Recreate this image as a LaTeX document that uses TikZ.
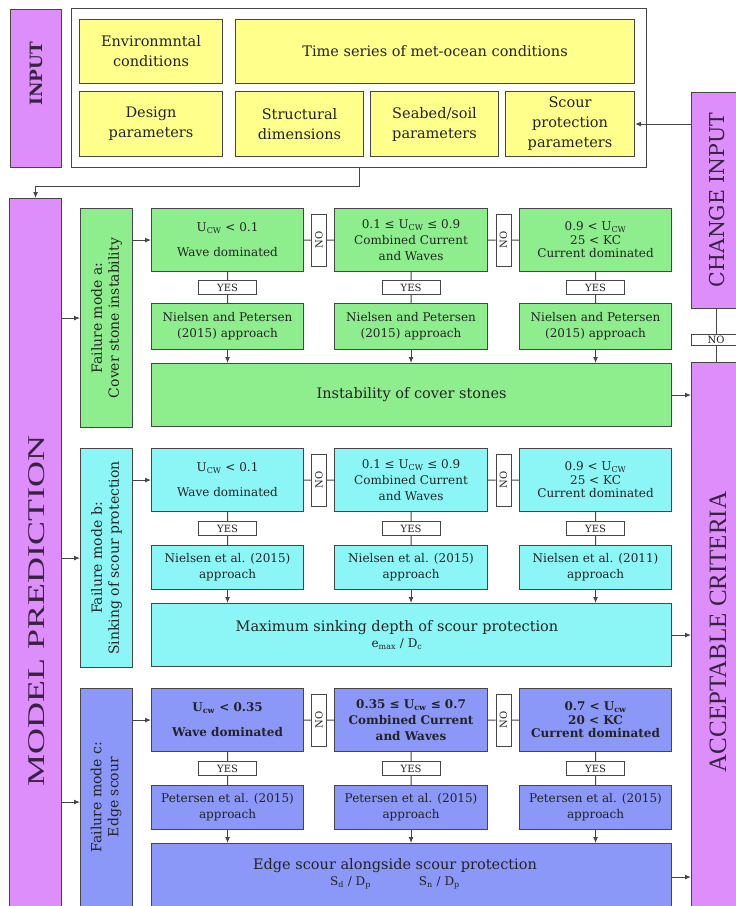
\documentclass[tikz,border=0pt]{standalone}
\usepackage{fontspec}
\setmainfont{DejaVu Serif}
\newfontfamily\tmsf{Liberation Serif}
\usetikzlibrary{arrows.meta,calc}

\definecolor{ylw}{RGB}{255,255,140}
\definecolor{grn}{RGB}{142,238,142}
\definecolor{cyn}{RGB}{140,246,246}
\definecolor{blu}{RGB}{140,152,248}
\definecolor{prp}{RGB}{222,142,250}
\definecolor{lnc}{RGB}{70,70,70}
\definecolor{txc}{RGB}{35,35,35}
\definecolor{ptx}{RGB}{55,35,65}

\newcommand\mkbox[7]{%
  \pgfmathsetmacro\bw{#5-#3}\pgfmathsetmacro\bh{#6-#4}%
  \node[#1, minimum width=\bw pt, minimum height=\bh pt, anchor=north west] (#2) at (#3,#4) {#7};}

\newcommand\wire[1]{%
  \node[lab, rotate=90, minimum width=52pt, minimum height=15pt] (#1no1) at ($(#11.east)!0.5!(#12.west)$) {NO};
  \node[lab, rotate=90, minimum width=52pt, minimum height=15pt] (#1no2) at ($(#12.east)!0.5!(#13.west)$) {NO};
  \draw[conn] (#11) -- (#1no1);
  \draw[conn] (#1no1) -- (#12);
  \draw[conn] (#12) -- (#1no2);
  \draw[conn] (#1no2) -- (#13);
  \foreach \k in {1,2,3}{
    \node[lab, minimum width=58pt, minimum height=14pt] (#1yes\k) at ($(#1\k.south)!0.5!(#1p\k.north)$) {YES};
    \draw[conn] (#1\k) -- (#1yes\k);
    \draw[conn] (#1yes\k) -- (#1p\k);
    \draw[arr] (#1p\k.south) -- (#1p\k.south |- #1b.north);
  }
  \draw[arr] (f#1.east |- #11) -- (#11.west);
  \draw[arr] (mp.east |- f#1) -- (f#1.west);
  \draw[arr] (#1b.east) -- (#1b.east -| acc.west);
}

\begin{document}
\begin{tikzpicture}[x=1pt,y=-1pt,
  bx/.style={draw=lnc, line width=1.1pt, inner sep=1pt, align=center, text=txc},
  boxY/.style={bx, fill=ylw, font=\fontsize{14.5}{20}\selectfont},
  boxG/.style={bx, fill=grn, font=\fontsize{12}{16}\selectfont},
  boxC/.style={bx, fill=cyn, font=\fontsize{12}{16}\selectfont},
  boxB/.style={bx, fill=blu, font=\fontsize{12}{16}\selectfont},
  boxBb/.style={boxB, font=\bfseries\fontsize{12}{16}\selectfont},
  big/.style={font=\fontsize{14.5}{18}\selectfont},
  ftxt/.style={rotate=90, align=center, text=txc, font=\fontsize{14}{17}\selectfont},
  pbox/.style={draw=lnc, fill=prp, line width=1.1pt},
  ptxt/.style={rotate=90, text=ptx, inner sep=0pt},
  lab/.style={draw=lnc, fill=white, line width=0.9pt, inner sep=0pt, text=txc, font=\fontsize{10}{10}\selectfont},
  conn/.style={draw=lnc, line width=1pt},
  arr/.style={conn, -{Latex[length=6pt,width=5pt]}},
]
\useasboundingbox (0,0) rectangle (736,906);
\fill[white] (0,0) rectangle (736,906);
\clip (0,0) rectangle (736,906);

% ---------- INPUT ----------
\mkbox{pbox}{inp}{10}{9}{61}{167}{}
\node[ptxt, font=\bfseries\fontsize{17}{17}\selectfont] (inpt) at (36,74) {INPUT};
\mkbox{draw=lnc, fill=white, line width=1.3pt}{inbox}{71}{8}{646}{167}{}
\mkbox{boxY}{e1}{79}{19}{222}{83}{Environmntal\\conditions}
\mkbox{boxY}{e2}{235}{19}{634}{83}{Time series of met-ocean conditions}
\mkbox{boxY}{e3}{79}{91}{222}{156}{Design\\parameters}
\mkbox{boxY}{e4}{235}{91}{363}{156}{Structural\\dimensions}
\mkbox{boxY}{e5}{370}{91}{498}{156}{Seabed/soil\\parameters}
\mkbox{boxY}{e6}{505}{91}{634}{156}{Scour\\protection\\parameters}

% ---------- right column ----------
\mkbox{pbox}{chg}{691}{92}{745}{308}{}
\node[ptxt, font=\fontsize{20.5}{20.5}\selectfont] (chgt) at (717,200) {CHANGE INPUT};
\mkbox{pbox}{acc}{691}{362}{745}{915}{}
\node[ptxt, font=\tmsf\fontsize{25}{25}\selectfont] (acct) at (718,632) {ACCEPTABLE CRITERIA};
\node[lab, minimum width=50pt, minimum height=11pt] (nochg) at (716,340) {NO};
\draw[conn] (chg.south -| nochg) -- (nochg);
\draw[conn] (nochg) -- (nochg |- acc.north);
\draw[arr] (chg.west |- e6) -- (e6.east);

% ---------- MODEL PREDICTION ----------
\mkbox{pbox}{mp}{9}{198}{61}{915}{}
\node[ptxt, font=\tmsf\fontsize{24}{24}\selectfont] (mpt) at (37,611) {\scalebox{1.5}[1]{MODEL PREDICTION}};
\draw[arr] (inbox.south) -- ++(0,18) -| (mp.north);

% ---------- section a ----------
\mkbox{boxG}{fa}{80}{208}{132}{427}{}
\node[ftxt] (fat) at (fa) {Failure mode a:\\Cover stone instability};
\mkbox{boxG}{a1}{151}{208}{303}{271}{U\textsubscript{CW} < 0.1\\[9pt]Wave dominated}
\mkbox{boxG}{a2}{334}{208}{487}{271}{0.1 ≤ U\textsubscript{CW} ≤ 0.9\\Combined Current\\and Waves}
\mkbox{boxG}{a3}{519}{208}{671}{271}{0.9 < U\textsubscript{CW}\\[-2.5pt]25 < KC\\[-2.5pt]Current dominated}
\mkbox{boxG}{ap1}{151}{303}{303}{349}{Nielsen and Petersen\\(2015) approach}
\mkbox{boxG}{ap2}{334}{303}{487}{349}{Nielsen and Petersen\\(2015) approach}
\mkbox{boxG}{ap3}{519}{303}{671}{349}{Nielsen and Petersen\\(2015) approach}
\mkbox{boxG,big}{ab}{151}{363}{671}{426}{Instability of cover stones}
\wire{a}

% ---------- section b ----------
\mkbox{boxC}{fb}{80}{448}{132}{667}{}
\node[ftxt] (fbt) at (fb) {Failure mode b:\\Sinking of scour protection};
\mkbox{boxC}{b1}{151}{448}{303}{511}{U\textsubscript{CW} < 0.1\\[9pt]Wave dominated}
\mkbox{boxC}{b2}{334}{448}{487}{511}{0.1 ≤ U\textsubscript{CW} ≤ 0.9\\Combined Current\\and Waves}
\mkbox{boxC}{b3}{519}{448}{671}{511}{0.9 < U\textsubscript{CW}\\[-2.5pt]25 < KC\\[-2.5pt]Current dominated}
\mkbox{boxC}{bp1}{151}{545}{303}{589}{Nielsen et al. (2015)\\approach}
\mkbox{boxC}{bp2}{334}{545}{487}{589}{Nielsen et al. (2015)\\approach}
\mkbox{boxC}{bp3}{519}{545}{671}{589}{Nielsen et al. (2011)\\approach}
\mkbox{boxC,big}{bb}{151}{603}{671}{666}{}
\node[align=center, text=txc, font=\fontsize{14.5}{16}\selectfont] (bbt) at (397,635) {Maximum sinking depth of scour protection\\{\fontsize{12}{12}\selectfont e\textsubscript{max} / D\textsubscript{c}}};
\wire{b}

% ---------- section c ----------
\mkbox{boxB}{fc}{80}{688}{132}{915}{}
\node[ftxt] (fct) at (106,797) {Failure mode c:\\Edge scour};
\mkbox{boxBb}{c1}{151}{688}{303}{751}{U\textsubscript{cw} < 0.35\\[9pt]Wave dominated}
\mkbox{boxBb}{c2}{334}{688}{487}{751}{0.35 ≤ U\textsubscript{cw} ≤ 0.7\\Combined Current\\and Waves}
\mkbox{boxBb}{c3}{519}{688}{671}{751}{0.7 < U\textsubscript{cw}\\[-2.5pt]20 < KC\\[-2.5pt]Current dominated}
\mkbox{boxB}{cp1}{151}{785}{303}{829}{Petersen et al. (2015)\\approach}
\mkbox{boxB}{cp2}{334}{785}{487}{829}{Petersen et al. (2015)\\approach}
\mkbox{boxB}{cp3}{519}{785}{671}{829}{Petersen et al. (2015)\\approach}
\mkbox{boxB,big}{cb}{151}{843}{671}{910}{}
\node[align=center, text=txc, font=\fontsize{14.5}{16}\selectfont] (cbt) at (395,874) {Edge scour alongside scour protection\\{\fontsize{12}{12}\selectfont S\textsubscript{d} / D\textsubscript{p}\hspace{48pt}S\textsubscript{n} / D\textsubscript{p}}};
\wire{c}
\end{tikzpicture}
\end{document}
